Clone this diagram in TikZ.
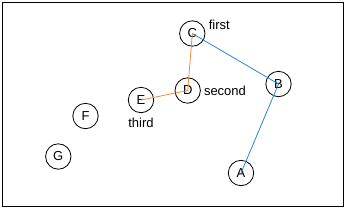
\documentclass[tikz,border=0pt]{standalone}
\usepackage{fontspec}
\setmainfont{Liberation Sans}
\usetikzlibrary{positioning}
\usepackage{xcolor}
\definecolor{linkblue}{RGB}{40,135,215}
\definecolor{linkorange}{RGB}{240,140,60}

\begin{document}
\begin{tikzpicture}[x=1pt, y=-1pt, font=\fontsize{13}{15}\selectfont,
    vertex/.style={draw, circle, minimum size=25.4pt, inner sep=0pt, line width=0.8pt},
    tag/.style={inner sep=1pt}]
            \useasboundingbox (0,0) rectangle (347,210);
            \draw[line width=1.2pt] (2.5,2.5) rectangle (343.5,206.5);

            \node[vertex] (A) at (241,173) {A};
            \node[vertex] (B) at (278.5,84) {B};
            \node[vertex] (C) at (192.3,33.5) {C};
            \node[vertex] (D) at (187.7,90.5) {D};
            \node[vertex] (E) at (141,100) {E};
            \node[vertex] (F) at (85.5,116) {F};
            \node[vertex] (G) at (58.3,156.5) {G};

            \node[tag, right=6pt of C.north east, anchor=west, yshift=-1pt] (first) {first};
            \node[tag, right=2pt of D] (second) {second};
            \node[tag, below=4pt of E] (third) {third};

            \draw[linkblue, line width=0.8pt] (A.center) -- (B.center) -- (C.center);
            \draw[linkorange, line width=0.8pt] (C.center) -- (D.center) -- (E.center);
        \end{tikzpicture}
\end{document}
